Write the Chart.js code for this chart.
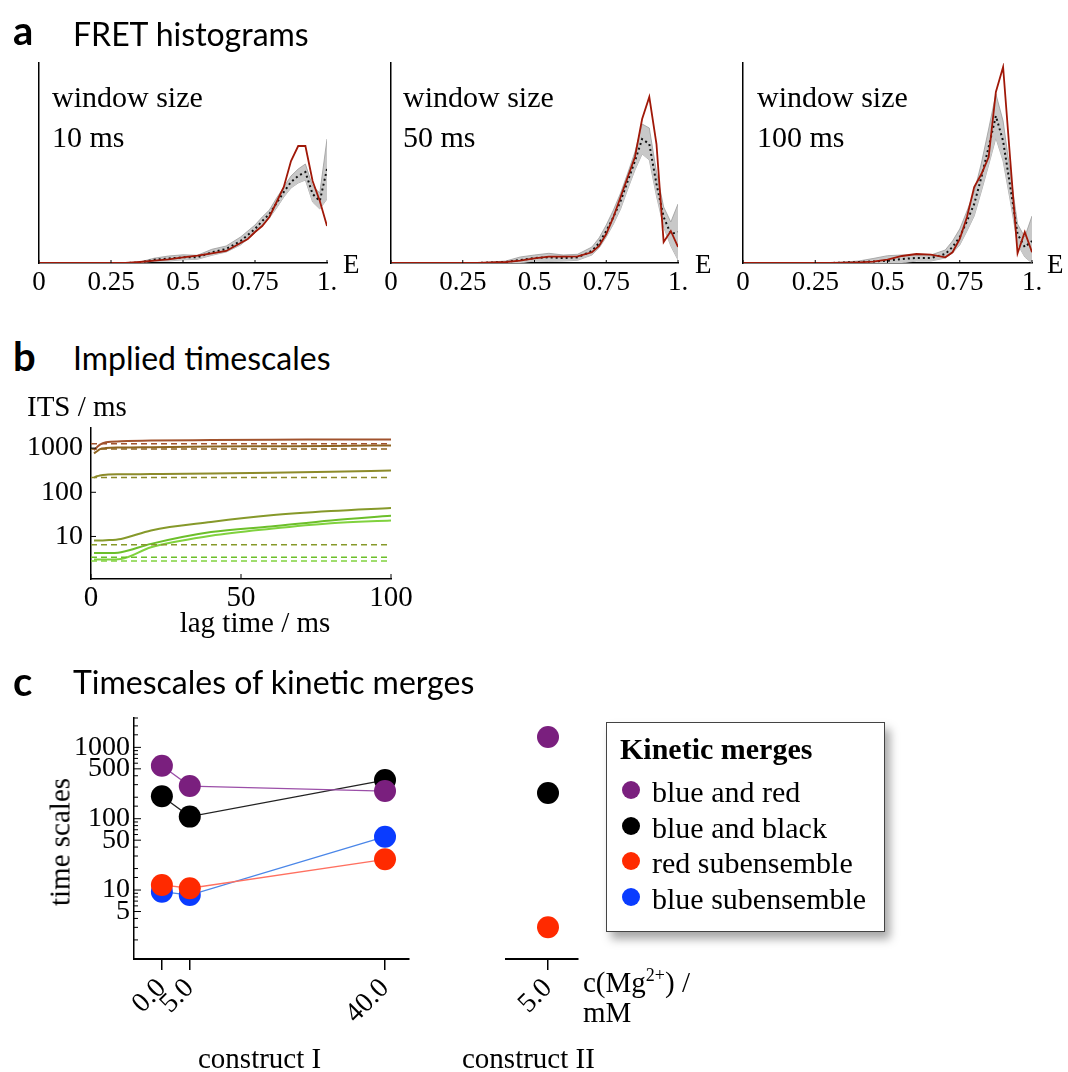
<!DOCTYPE html>
<html>
<head>
<meta charset="utf-8">
<script src="https://cdn.jsdelivr.net/npm/chart.js@4.4.1/dist/chart.umd.min.js"></script>
<style>
    body { margin: 0; background: #fff; }
    #page { position: relative; width: 1068px; height: 1072px; overflow: hidden; background: #fff; }
    canvas { position: absolute; }
    .t { position: absolute; white-space: nowrap; line-height: 1; color: #000; }
    .legend-box { position: absolute; box-sizing: border-box; border: 1.5px solid #444; background: #fff;
                  box-shadow: 5px 7px 9px rgba(0, 0, 0, 0.35); }
    .dot { position: absolute; width: 18px; height: 18px; border-radius: 50%; }
</style>
</head>
<body>
<div id="page">
    <canvas id="histA" width="370" height="260" style="left:0px;top:50px"></canvas>
    <canvas id="histB" width="370" height="260" style="left:352px;top:50px"></canvas>
    <canvas id="histC" width="364" height="260" style="left:704px;top:50px"></canvas>
    <canvas id="itsChart" width="420" height="220" style="left:0px;top:420px"></canvas>
    <canvas id="mergeI" width="440" height="372" style="left:0px;top:700px"></canvas>
    <canvas id="mergeII" width="160" height="372" style="left:440px;top:700px"></canvas>
</div>
<script>
// ---- panel a: FRET histograms (arbitrary density units) ----
const eBins = [0, 0.3, 0.35, 0.4, 0.45, 0.5, 0.55, 0.6, 0.65, 0.7, 0.725, 0.75, 0.775, 0.8, 0.825, 0.85, 0.875, 0.9, 0.925, 0.95, 0.975, 1.0];
const eTicks = [0, 0.25, 0.5, 0.75, 1];
const eTickLabels = ['0', '0.25', '0.5', '0.75', '1.'];

const red10 = [0, 0, 1, 2.3, 3.7, 5.7, 7.3, 9.7, 12, 20, 24, 31, 37, 46, 61, 76, 102, 117, 117, 82, 62, 37];
const mean10 = [0, 0, 0.5, 3.3, 4.5, 5.7, 5.7, 10.7, 14, 22, 28, 34, 42, 49, 60, 71, 81, 87, 91, 69, 62, 94];
const sd10 = [0, 0, 0.5, 1.5, 2.5, 2.5, 2, 3, 3, 4, 4, 4, 4, 4, 5, 5, 6, 7, 8, 8, 8, 30];

const red50 = [0, 0, 0.5, 1, 2.3, 4.7, 6.3, 6.3, 6.7, 10.7, 17, 29, 46, 66, 86, 106, 144, 166, 119, 21, 32, 16];
const mean50 = [0, 0, 0.5, 1, 3, 5, 5.7, 5, 5.7, 12, 20, 32, 46, 62, 82, 102, 124, 119, 79, 46, 29, 31];
const sd50 = [0, 0, 0.5, 1, 3, 3, 4, 3, 3, 4, 5, 6, 7, 8, 8, 9, 15, 16, 12, 10, 12, 28];

const red100 = [0, 0, 0.3, 0.7, 1.3, 3.3, 7, 9, 8.3, 5.7, 10.7, 24, 46, 76, 89, 106, 171, 196, 102, 9.7, 31, 10.7];
const mean100 = [0, 0, 0.5, 1, 1.5, 2.3, 4, 5, 5, 9, 16, 26, 42, 59, 86, 116, 147, 122, 76, 29, 16, 22];
const sd100 = [0, 0, 0.5, 1, 3, 5, 4, 3, 3, 4, 6, 8, 10, 12, 14, 18, 22, 20, 14, 10, 10, 25];

// ---- panel b: implied timescales (ms) ----
const lagTimes = [1, 2, 3, 5, 10, 20, 40, 60, 80, 100];
const bTicks = [0, 50, 100];
const bTickLabels = ['0', '50', '100'];
const its1 = [900, 1050, 1200, 1350, 1420, 1480, 1520, 1550, 1560, 1575];
const its2 = [760, 850, 950, 1000, 1030, 1050, 1080, 1100, 1120, 1150];
const its3 = [215, 230, 240, 250, 255, 258, 265, 275, 290, 310];
const its4 = [8.1, 8.1, 8.1, 8.2, 8.8, 13.7, 21.2, 30.1, 37.6, 44];
const its5 = [4.2, 4.2, 4.2, 4.2, 4.4, 6.8, 12.6, 16.9, 23.1, 29.3];
const its6 = [3.0, 3.0, 3.0, 3.0, 3.1, 5.7, 10.4, 15.0, 20.0, 23.1];
const itsReference = [1250, 960, 215, 6.5, 3.4, 2.8];
const itsColors = ['#a0522d', '#8e6420', '#8c8a2a', '#86992a', '#6cbf2a', '#80d23e'];

// ---- panel c: timescales of kinetic merges ----
const concI = [0, 5, 40];
const concII = [5];
const concTicksI = [0, 5, 40];
const concLabelsI = ['0.0', '5.0', '40.0'];
const concLabelsII = ['5.0'];
const blueRedI = [552, 287, 244];
const blueBlackI = [206, 107, 348];
const redSubI = [11.8, 10.6, 27];
const blueSubI = [9.5, 8.5, 56];
const blueRedII = [1394];
const blueBlackII = [229];
const redSubII = [3.0];
const mergeNames = ['blue and red', 'blue and black', 'red subensemble', 'blue subensemble'];
const mergeColors = ['#7a1f7e', '#000000', '#ff2a00', '#0a3cff'];
const mergeLineColors = ['#9b4fa8', '#222222', '#ff7060', '#4a86e8'];
const cTickValues = [5, 10, 50, 100, 500, 1000];

Chart.defaults.font.family = '"Liberation Serif", serif';
Chart.defaults.color = '#000';
Chart.defaults.animation = false;

// small tick marks pointing into the plot
Chart.register({
    id: 'innerTicks',
    afterDraw(chart, args, opts) {
        const ctx = chart.ctx;
        (opts.scales || []).forEach(s => {
            const scale = chart.scales[s.id];
            ctx.save();
            ctx.strokeStyle = '#000';
            ctx.lineWidth = 1;
            scale.ticks.forEach(t => {
                const major = !s.major || s.major.includes(t.value);
                const len = major ? s.len : (s.minorLen || 0);
                if (!len || t.value < scale.min || t.value > scale.max) return;
                const p = scale.getPixelForValue(t.value);
                ctx.beginPath();
                if (scale.isHorizontal()) {
                    ctx.moveTo(p, scale.top);
                    ctx.lineTo(p, scale.top - len);
                } else {
                    ctx.moveTo(scale.right, p);
                    ctx.lineTo(scale.right + len, p);
                }
                ctx.stroke();
            });
            ctx.restore();
        });
    }
});

const axisBorder = { display: true, color: '#000', width: 1.5 };
const noGrid = { display: false, drawTicks: false };

function pts(xs, ys) {
    return ys.map((y, i) => ({ x: xs[i], y: y }));
}

// keep the plot box where the layout puts it, labels may overflow
function fixWidth(w) {
    return s => { s.width = w; s.paddingTop = 0; s.paddingBottom = 0; };
}
function fixHeight(h) {
    return s => { s.height = h; s.paddingLeft = 0; s.paddingRight = 0; };
}

function histChart(id, red, mean, sd, padRight) {
    const upper = mean.map((m, i) => m + sd[i]);
    const lower = mean.map((m, i) => Math.max(0, m - sd[i]));
    new Chart(document.getElementById(id), {
        type: 'line',
        data: {
            datasets: [
                { data: pts(eBins, red), borderColor: '#a01808', borderWidth: 1.8, order: 0 },
                { data: pts(eBins, mean), borderColor: '#111', borderWidth: 2, borderDash: [2, 3], order: 1 },
                { data: pts(eBins, upper), borderColor: '#9a9a9a', borderWidth: 0.8, backgroundColor: '#c8c8c8', fill: '+1', order: 2 },
                { data: pts(eBins, lower), borderColor: '#9a9a9a', borderWidth: 0.8, fill: false, order: 3 }
            ]
        },
        options: {
            responsive: false,
            layout: { padding: { top: 13, right: padRight, left: 0, bottom: 0 } },
            plugins: {
                legend: { display: false },
                tooltip: { enabled: false },
                innerTicks: { scales: [{ id: 'x', len: 3 }] }
            },
            elements: { point: { radius: 0 }, line: { tension: 0 } },
            scales: {
                x: {
                    type: 'linear', min: 0, max: 1,
                    afterBuildTicks: s => { s.ticks = eTicks.map(v => ({ value: v })); },
                    afterFit: fixHeight(47),
                    grid: noGrid,
                    border: axisBorder,
                    ticks: { font: { size: 27 }, padding: 4, maxRotation: 0, autoSkip: false,
                             callback: (v, i) => eTickLabels[i] }
                },
                y: {
                    min: 0, max: 200,
                    afterFit: fixWidth(39),
                    grid: noGrid,
                    border: axisBorder,
                    ticks: { display: false }
                }
            }
        }
    });
}

histChart('histA', red10, mean10, sd10, 43);
histChart('histB', red50, mean50, sd50, 44);
histChart('histC', red100, mean100, sd100, 36);

// panel b
const itsSeries = [its1, its2, its3, its4, its5, its6];
const itsDatasets = [];
itsSeries.forEach((s, i) => {
    itsDatasets.push({ data: pts(lagTimes, s), borderColor: itsColors[i], borderWidth: 2, cubicInterpolationMode: 'monotone' });
    itsDatasets.push({ data: pts([0, 100], [itsReference[i], itsReference[i]]), borderColor: itsColors[i], borderWidth: 1.5, borderDash: [6, 4] });
});
new Chart(document.getElementById('itsChart'), {
    type: 'line',
    data: { datasets: itsDatasets },
    options: {
        responsive: false,
        layout: { padding: { top: 8, right: 29, left: 0, bottom: 0 } },
        plugins: {
            legend: { display: false },
            tooltip: { enabled: false },
            innerTicks: { scales: [{ id: 'x', len: 5 }, { id: 'y', len: 5, major: [10, 100, 1000] }] }
        },
        elements: { point: { radius: 0 } },
        scales: {
            x: {
                type: 'linear', min: 0, max: 100,
                afterBuildTicks: s => { s.ticks = bTicks.map(v => ({ value: v })); },
                afterFit: fixHeight(61),
                grid: noGrid,
                border: axisBorder,
                ticks: { font: { size: 29 }, padding: 2, maxRotation: 0, autoSkip: false,
                         callback: (v, i) => bTickLabels[i] }
            },
            y: {
                type: 'logarithmic', min: 1.09, max: 2850,
                afterFit: fixWidth(91),
                grid: noGrid,
                border: axisBorder,
                ticks: { font: { size: 28 }, padding: 8, autoSkip: false,
                         callback: v => ([10, 100, 1000].includes(v) ? String(v) : '') }
            }
        }
    }
});

// panel c
function mergeDataset(xs, ys, i, withLine) {
    return {
        data: pts(xs, ys),
        showLine: withLine,
        borderColor: mergeLineColors[i],
        borderWidth: 1.3,
        pointRadius: 11,
        pointBackgroundColor: mergeColors[i],
        pointBorderWidth: 0,
        order: [0, 2, 1, 3][i]
    };
}
const cY = {
    type: 'logarithmic', min: 1.08, max: 2580,
    grid: noGrid,
    border: axisBorder
};
const cXGrid = { display: true, drawOnChartArea: false, drawTicks: true, tickLength: 11, color: '#000', lineWidth: 1.5 };
new Chart(document.getElementById('mergeI'), {
    type: 'line',
    data: {
        datasets: [
            mergeDataset(concI, blueRedI, 0, true),
            mergeDataset(concI, blueBlackI, 1, true),
            mergeDataset(concI, redSubI, 2, true),
            mergeDataset(concI, blueSubI, 3, true)
        ]
    },
    options: {
        responsive: false,
        layout: { padding: { top: 18, right: 31, left: 0, bottom: 0 } },
        plugins: {
            legend: { display: false },
            tooltip: { enabled: false },
            innerTicks: { scales: [{ id: 'y', len: 7, minorLen: 4, major: cTickValues }] }
        },
        scales: {
            x: {
                type: 'linear', min: -5, max: 44.3,
                afterBuildTicks: s => { s.ticks = concTicksI.map(v => ({ value: v })); },
                afterFit: fixHeight(113),
                grid: cXGrid,
                border: { display: true, color: '#000', width: 2 },
                ticks: { font: { size: 28 }, padding: 2, minRotation: 45, maxRotation: 45, autoSkip: false,
                         callback: (v, i) => concLabelsI[i] }
            },
            y: Object.assign({}, cY, {
                afterFit: fixWidth(134),
                ticks: { font: { size: 28 }, padding: 4, autoSkip: false,
                         callback: v => (cTickValues.includes(v) ? String(v) : '') }
            })
        }
    }
});
new Chart(document.getElementById('mergeII'), {
    type: 'line',
    data: {
        datasets: [
            mergeDataset(concII, blueRedII, 0, false),
            mergeDataset(concII, blueBlackII, 1, false),
            mergeDataset(concII, redSubII, 2, false)
        ]
    },
    options: {
        responsive: false,
        layout: { padding: { top: 18, right: 22, left: 66, bottom: 0 } },
        plugins: { legend: { display: false }, tooltip: { enabled: false } },
        scales: {
            x: {
                type: 'linear', min: 1.5, max: 7.5,
                afterBuildTicks: s => { s.ticks = concII.map(v => ({ value: v })); },
                afterFit: fixHeight(113),
                grid: cXGrid,
                border: { display: true, color: '#000', width: 2 },
                ticks: { font: { size: 28 }, padding: 2, minRotation: 45, maxRotation: 45, autoSkip: false,
                         callback: (v, i) => concLabelsII[i] }
            },
            y: Object.assign({}, cY, { display: false })
        }
    }
});

// ---- text ----
const page = document.getElementById('page');
function addText(str, x, base, size, opts) {
    opts = opts || {};
    const d = document.createElement('div');
    d.className = 't';
    const fam = opts.sans ? 'Lato, sans-serif' : '"Liberation Serif", serif';
    const asc = opts.sans ? 0.887 : 0.8375;
    d.style.font = (opts.bold ? 'bold ' : '') + size + 'px ' + fam;
    d.style.left = x + 'px';
    d.style.top = (base - asc * size) + 'px';
    d.innerHTML = str;
    if (opts.center) d.style.transform = 'translateX(-50%)';
    page.appendChild(d);
    return d;
}

addText('a', 13, 41, 40, { sans: true, bold: true });
addText('FRET histograms', 73, 42, 32, { sans: true });
addText('b', 13, 367, 40, { sans: true, bold: true });
addText('Implied timescales', 73, 366, 32, { sans: true });
addText('c', 13, 692, 40, { sans: true, bold: true });
addText('Timescales of kinetic merges', 73, 690, 32, { sans: true });

[[52, '10 ms', 343], [403, '50 ms', 695], [757, '100 ms', 1047]].forEach(w => {
    addText('window size', w[0], 105, 30);
    addText(w[1], w[0], 145, 30);
    addText('E', w[2], 272, 27);
});

addText('ITS / ms', 27, 414, 29);
addText('lag time / ms', 255, 630, 29, { center: true });

const ts = addText('time scales', 60, 842, 29);
ts.style.top = '842px';
ts.style.transform = 'translate(-50%, -50%) rotate(-90deg)';

addText('construct I', 198, 1066, 29);
addText('construct II', 462, 1066, 29);
addText('c(Mg<span style="font-size:18px;position:relative;top:-11px">2+</span>) /', 583, 990, 29);
addText('mM', 583, 1020, 29);

// legend
const box = document.createElement('div');
box.className = 'legend-box';
box.style.left = '606px';
box.style.top = '722px';
box.style.width = '279px';
box.style.height = '210px';
page.appendChild(box);
addText('Kinetic merges', 620, 757, 30, { bold: true });
mergeNames.forEach((name, i) => {
    const base = 800 + i * 35.7;
    const dot = document.createElement('div');
    dot.className = 'dot';
    dot.style.background = mergeColors[i];
    dot.style.left = '622px';
    dot.style.top = (base - 19) + 'px';
    page.appendChild(dot);
    addText(name, 652, base, 30);
});
</script>
</body>
</html>
